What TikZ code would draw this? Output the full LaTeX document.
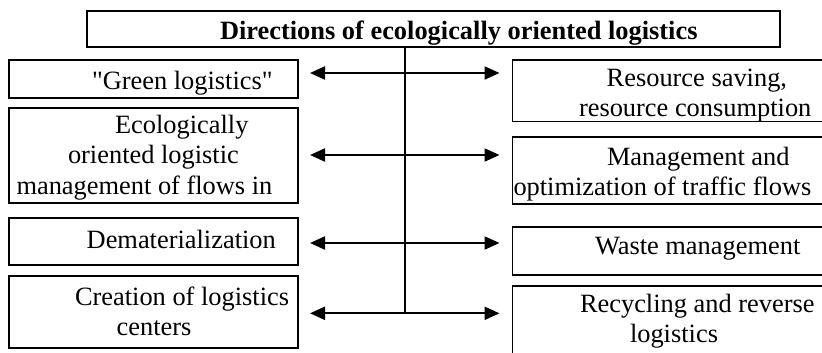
\documentclass[tikz,border=0pt]{standalone}
\usepackage{fontspec}
\setmainfont{Liberation Serif}
\usetikzlibrary{arrows.meta}
\begin{document}
\begin{tikzpicture}[x=1pt,y=-1pt,
  boxstyle/.style={draw,line width=1.4pt,rectangle,inner sep=0pt,outer sep=0pt,anchor=north west},
  lbl/.style={inner sep=0pt,outer sep=0pt,anchor=base west,font=\fontsize{26.4}{30}\selectfont},
  trunk/.style={line width=1.2pt},
  biarrow/.style={line width=2.2pt,{Triangle[length=15pt,width=13pt]}-{Triangle[length=15pt,width=13pt]},shorten <=12pt,shorten >=13pt}]
\useasboundingbox (0,0) rectangle (822,353);
% boxes
\node[boxstyle,minimum width=693pt,minimum height=36pt] (T) at (87,11) {};
\node[boxstyle,minimum width=289pt,minimum height=38pt] (L1) at (9,60) {};
\node[boxstyle,minimum width=289pt,minimum height=95pt] (L2) at (9,108) {};
\node[boxstyle,minimum width=289pt,minimum height=47pt] (L3) at (9,218) {};
\node[boxstyle,minimum width=289pt,minimum height=72pt] (L4) at (9,276) {};
\node[boxstyle,minimum width=312pt,minimum height=61.5pt] (R1) at (512.5,60) {};
\node[boxstyle,minimum width=312pt,minimum height=67pt] (R2) at (512.5,137) {};
\node[boxstyle,minimum width=312pt,minimum height=48pt] (R3) at (512.5,227) {};
\node[boxstyle,minimum width=312pt,minimum height=80pt] (R4) at (512.5,286) {};
% texts
\node[lbl,font=\fontsize{26.4}{30}\selectfont\bfseries] (tT) at (220,39.5) {Directions of ecologically oriented logistics};
\node[lbl] (tL1) at (92,89) {\textquotedbl Green logistics\textquotedbl};
\node[lbl] (tL2a) at (115,133) {Ecologically};
\node[lbl] (tL2b) at (68,163.5) {oriented logistic};
\node[lbl] (tL2c) at (16.5,194) {management of flows in};
\node[lbl] (tL3) at (86.7,248) {Dematerialization};
\node[lbl] (tL4a) at (75,305) {Creation of logistics};
\node[lbl] (tL4b) at (116.7,335) {centers};
\node[lbl] (tR1a) at (606.7,87) {Resource saving,};
\node[lbl] (tR1b) at (579,116) {resource consumption};
\node[lbl] (tR2a) at (607,165) {Management and};
\node[lbl] (tR2b) at (513.5,195.5) {optimization of traffic flows};
\node[lbl] (tR3) at (595,254) {Waste management};
\node[lbl] (tR4a) at (580,312) {Recycling and reverse};
\node[lbl] (tR4b) at (630,342) {logistics};
% connectors
\coordinate (a1) at (405,73);
\coordinate (a2) at (405,155);
\coordinate (a3) at (405,243);
\coordinate (a4) at (405,313.3);
\draw[trunk] (a1 |- T.south) -- (a4);
\draw[biarrow] (a1 -| L1.east) -- (a1 -| R1.west);
\draw[biarrow] (a2 -| L2.east) -- (a2 -| R2.west);
\draw[biarrow] (a3 -| L3.east) -- (a3 -| R3.west);
\draw[biarrow] (a4 -| L4.east) -- (a4 -| R4.west);
\end{tikzpicture}
\end{document}
